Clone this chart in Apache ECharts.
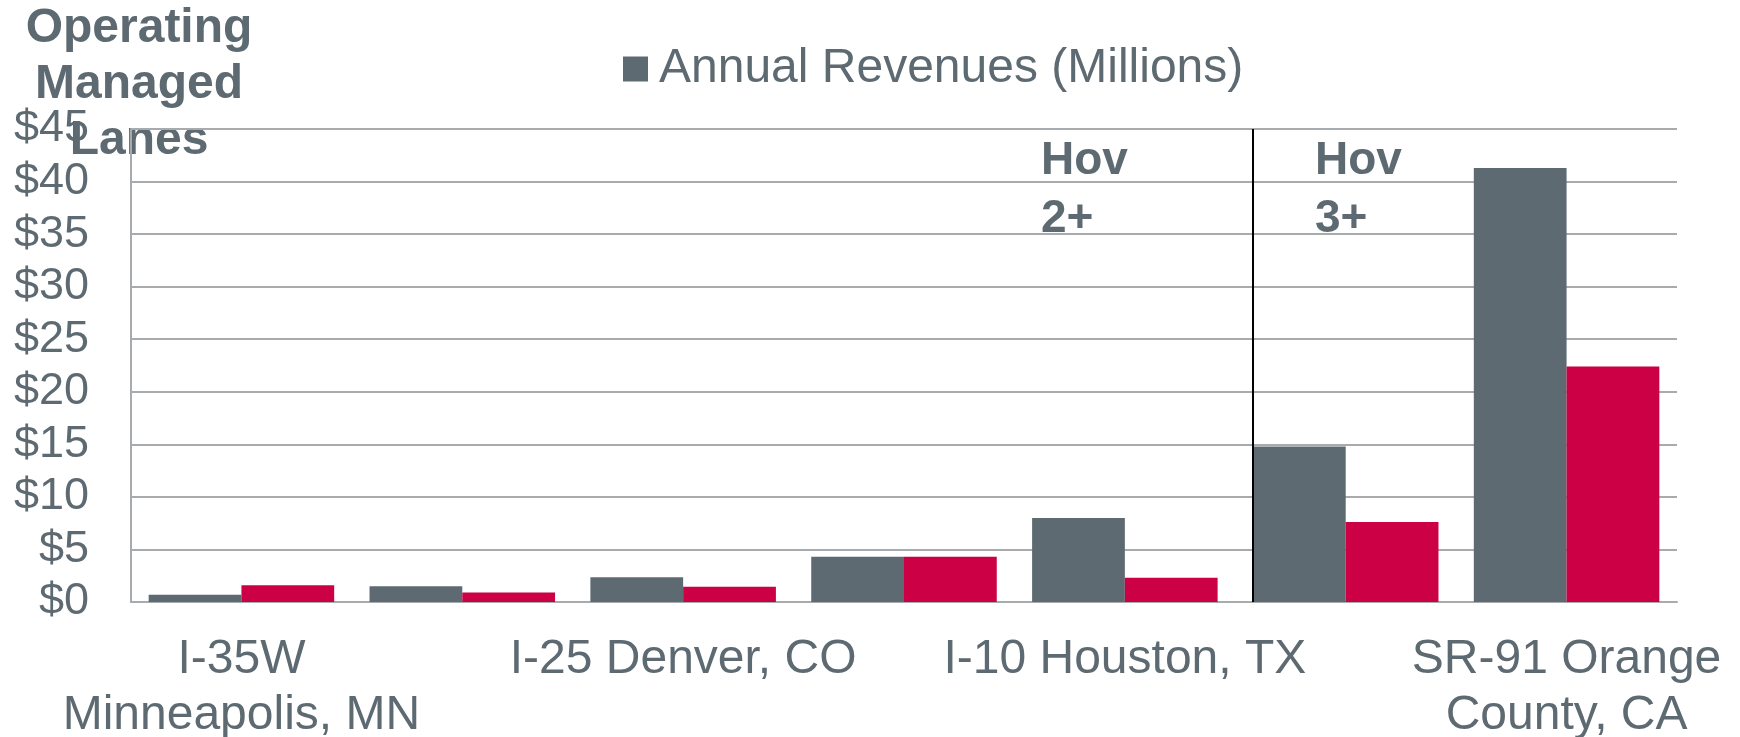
<!DOCTYPE html>
<html>

<head>
    <meta charset="utf-8">
    <title>Operating Managed Lanes</title>
    <script src="https://cdn.jsdelivr.net/npm/echarts@6/dist/echarts.min.js"></script>
    <style>
        * {
            margin: 0;
            padding: 0;
        }
    </style>
</head>

<body>
    <div id="main" style="width: 1740px; height: 737px;"></div>
    <script type="text/javascript">
        // categories (only every other one is labelled on the axis)
        var categories = ['I-35W\nMinneapolis, MN', '', 'I-25 Denver, CO', '', 'I-10 Houston, TX', '', 'SR-91 Orange\nCounty, CA'];
        var revenues = [0.7, 1.5, 2.35, 4.3, 8.0, 14.8, 41.3];
        var secondSeries = [1.6, 0.9, 1.45, 4.3, 2.3, 7.6, 22.4];
        var yTicks = [0, 45, 5]; // min, max, interval
        var hovSplit = 5.08; // position of the HOV 2+ / 3+ divider, in category units

        var textColor = '#5e6a72';
        var gridColor = '#a7abae';
        var font = 'Liberation Sans, Arial, sans-serif';

        var myChart = echarts.init(document.getElementById('main'));

        var option = {
            backgroundColor: '#fff',
            animation: false,
            legend: {
                data: ['Annual Revenues (Millions)'],
                left: 618,
                top: 40,
                itemWidth: 25,
                itemHeight: 25,
                icon: 'rect',
                textStyle: {
                    color: textColor,
                    fontSize: 48,
                    fontFamily: font,
                    padding: [0, 0, 0, 6]
                }
            },
            grid: {
                left: 131,
                right: 63,
                top: 129,
                bottom: 135,
                outerBoundsMode: 'none'
            },
            xAxis: [{
                type: 'category',
                data: categories,
                axisLine: { lineStyle: { color: gridColor, width: 2 } },
                axisTick: { show: false },
                axisLabel: {
                    interval: 1,
                    margin: 30,
                    color: textColor,
                    fontSize: 48,
                    lineHeight: 56,
                    fontFamily: font
                }
            }, {
                type: 'value',
                min: 0,
                max: 7,
                show: false
            }],
            yAxis: {
                type: 'value',
                min: yTicks[0],
                max: yTicks[1],
                interval: yTicks[2],
                axisLine: { show: true, lineStyle: { color: gridColor, width: 2 } },
                axisTick: { show: false },
                splitLine: { lineStyle: { color: gridColor, width: 2 } },
                axisLabel: {
                    formatter: '${value}',
                    margin: 42,
                    color: textColor,
                    fontSize: 45,
                    fontFamily: font
                }
            },
            series: [
                {
                    name: 'Annual Revenues (Millions)',
                    type: 'bar',
                    data: revenues,
                    barGap: '0%',
                    barCategoryGap: '16%',
                    itemStyle: { color: '#5e6a72' }
                },
                {
                    name: 'Series 2',
                    type: 'bar',
                    data: secondSeries,
                    itemStyle: { color: '#cc0044' }
                },
                {
                    // divider between the HOV 2+ and HOV 3+ groups
                    type: 'line',
                    xAxisIndex: 1,
                    data: [],
                    markLine: {
                        silent: true,
                        symbol: 'none',
                        label: { show: false },
                        lineStyle: { color: '#000', width: 2, type: 'solid' },
                        data: [{ xAxis: hovSplit }]
                    }
                }
            ],
            graphic: [
                {
                    type: 'text',
                    x: 139,
                    y: 1,
                    style: {
                        text: 'Operating\nManaged\nLanes',
                        align: 'center',
                        verticalAlign: 'top',
                        font: 'bold 48px ' + font,
                        lineHeight: 56,
                        fill: textColor
                    }
                },
                {
                    type: 'text',
                    x: 1041,
                    y: 132,
                    style: {
                        text: 'Hov\n2+',
                        verticalAlign: 'top',
                        font: 'bold 46px ' + font,
                        lineHeight: 58,
                        fill: textColor
                    }
                },
                {
                    type: 'text',
                    x: 1315,
                    y: 132,
                    style: {
                        text: 'Hov\n3+',
                        verticalAlign: 'top',
                        font: 'bold 46px ' + font,
                        lineHeight: 58,
                        fill: textColor
                    }
                }
            ]
        };

        myChart.setOption(option);
    </script>
</body>

</html>
